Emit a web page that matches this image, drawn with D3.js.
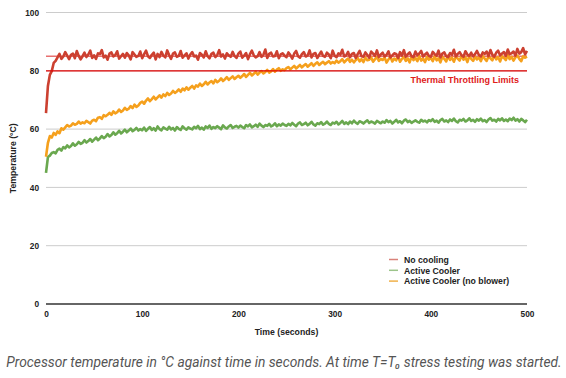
<!DOCTYPE html>
<html><head><meta charset="utf-8">
<script src="https://cdn.jsdelivr.net/npm/d3@7"></script>
<style>
body{margin:0;background:#fff;}
svg{display:block;}
</style></head>
<body>
<script>
const timeStep = 2; // seconds between samples
const xTicks = [0, 100, 200, 300, 400, 500];
const yTicks = [0, 20, 40, 60, 80, 100];
const seriesNames = ["No cooling", "Active Cooler", "Active Cooler (no blower)"];
const thresholds = [85, 80];
const thresholdLabel = "Thermal Throttling Limits";

const noCooling = [
65.5,74.8,78.6,79.9,82.7,83.4,84.6,85.8,84.1,84.9,86.4,85.2,84.0,85.5,85.9,84.3,86.8,85.1,83.9,85.0,86.2,84.7,85.6,86.9,84.4,
85.3,84.1,86.0,85.7,87.1,84.6,85.2,83.8,85.9,86.3,84.9,85.4,86.7,84.2,85.0,85.8,84.5,86.1,85.3,83.9,86.4,85.6,84.8,85.1,86.6,
84.3,85.7,86.9,85.0,84.4,85.5,86.2,83.9,85.8,84.7,86.5,85.2,84.6,87.0,85.4,84.1,85.9,86.3,84.8,85.1,86.8,84.5,85.3,86.0,84.2,
85.6,86.4,84.9,85.2,83.8,86.1,85.5,84.6,86.7,85.0,84.3,85.8,86.2,84.7,85.4,87.1,84.9,85.6,84.2,86.0,85.3,84.8,86.5,85.1,84.4,
85.9,86.6,84.5,85.2,86.1,84.0,85.7,86.9,85.3,84.6,85.0,86.4,84.8,85.5,87.3,84.4,85.8,86.2,84.9,85.1,86.7,84.3,85.6,86.0,85.2,
84.7,86.3,85.4,84.2,85.9,86.8,85.0,84.5,85.7,86.4,84.9,85.3,87.0,84.6,85.8,86.1,84.4,85.5,86.6,85.1,84.8,86.2,85.6,84.3,86.9,
85.2,84.7,86.0,85.5,87.2,84.9,85.3,86.5,84.6,85.8,86.1,84.4,85.7,86.8,85.0,84.8,86.3,85.4,84.5,86.6,85.9,85.1,87.0,84.7,85.6,
86.2,84.9,85.5,86.7,84.6,85.3,86.0,85.8,84.4,86.4,85.2,87.1,84.8,85.7,86.3,85.0,84.7,86.6,85.4,85.9,86.8,84.9,85.6,86.2,85.1,
84.8,86.5,85.7,85.2,86.9,84.6,85.9,86.3,85.0,84.7,86.1,85.5,87.2,84.9,85.8,86.4,85.3,84.8,86.7,85.6,85.1,86.2,84.9,85.7,86.8,
85.4,84.9,86.3,85.8,86.6,85.0,87.1,85.5,84.8,86.2,86.9,85.3,85.9,86.4,85.1,87.3,85.7,86.0,86.6,85.2,87.5,85.9,86.4,87.8,85.6,86.8
];

const activeCooler = [
45.0,50.4,50.9,51.8,52.1,51.7,52.9,53.3,52.6,53.8,53.4,54.4,53.7,54.2,55.1,54.3,54.8,55.6,54.9,55.3,56.2,55.4,55.9,56.6,55.7,
56.4,57.1,56.2,56.8,57.6,56.9,57.4,58.3,57.5,58.0,58.9,58.1,58.6,59.4,58.5,59.1,59.8,58.9,59.5,60.2,59.3,59.7,60.4,59.5,60.0,
59.6,60.5,59.4,60.1,60.7,59.7,60.3,59.5,60.9,60.0,59.6,60.6,60.2,59.8,60.8,59.9,60.4,59.5,60.7,60.1,59.7,60.9,60.3,59.8,60.6,
60.2,59.9,60.8,60.3,61.1,60.0,60.5,59.8,60.9,60.4,61.2,60.1,60.7,60.3,61.0,60.5,60.0,61.3,60.6,60.2,60.9,61.4,60.4,60.8,61.1,
60.5,61.2,60.7,60.3,61.4,60.9,61.6,60.6,61.0,61.5,60.8,61.9,61.2,60.7,61.4,61.1,61.8,60.9,61.3,62.0,61.0,61.6,61.2,61.9,61.4,
61.1,61.8,61.3,62.1,61.5,61.0,61.9,62.3,61.4,61.7,62.2,61.3,61.8,62.5,61.6,61.2,62.0,61.7,62.4,61.5,61.9,62.6,61.8,61.4,62.2,
61.9,62.5,61.6,62.1,62.8,61.8,62.3,61.7,62.6,62.0,62.9,62.2,61.8,62.7,62.4,61.9,62.5,63.0,62.1,62.6,62.3,61.9,62.8,62.4,62.0,
62.6,62.2,63.1,62.4,62.8,61.9,62.5,63.2,62.3,62.7,62.0,62.9,63.3,62.4,62.8,62.1,62.6,63.0,62.5,62.2,63.2,62.6,62.9,62.3,63.1,
62.7,63.4,62.5,62.9,62.2,63.1,63.5,62.6,63.0,62.4,63.3,62.8,63.6,62.7,62.3,63.2,62.9,63.5,62.6,63.0,63.7,62.8,63.2,62.5,63.4,
62.9,63.6,62.7,63.1,62.4,63.3,63.8,62.9,63.2,62.6,63.5,63.0,63.7,62.8,63.3,62.7,63.6,63.1,63.9,62.9,63.4,62.6,63.5,63.0,62.4,63.2
];

const noBlower = [
50.5,55.3,57.6,57.1,58.7,58.0,59.2,58.6,60.3,59.8,60.6,61.4,60.9,61.2,62.0,61.5,61.8,62.6,61.9,62.3,62.0,62.8,62.4,61.9,62.9,
63.2,62.7,63.9,64.1,63.5,64.8,64.4,64.9,65.6,64.9,66.1,65.4,65.8,66.7,65.9,66.4,67.3,66.6,67.0,67.9,67.2,68.4,67.6,68.1,69.0,
69.4,68.7,69.8,70.5,69.6,70.3,71.1,70.2,70.9,71.6,70.8,71.9,71.3,72.4,71.7,72.2,73.1,72.4,72.9,73.6,72.8,73.9,73.3,74.3,73.5,
74.2,74.8,73.9,75.0,74.6,75.6,74.8,75.4,76.2,75.3,76.0,76.5,75.7,76.9,76.1,76.6,77.4,76.5,77.1,77.8,76.9,77.5,78.1,77.2,77.8,
78.3,77.6,78.2,78.9,77.9,78.6,79.3,78.4,79.0,79.6,78.7,79.4,79.9,79.1,79.6,80.3,79.4,79.8,80.6,79.7,80.4,80.9,80.0,80.5,80.2,
80.9,81.3,80.5,81.1,81.7,80.8,81.4,82.0,81.2,81.8,82.3,81.4,82.0,82.6,81.7,82.4,82.9,82.0,82.6,83.1,82.3,82.8,83.3,82.5,83.0,
82.6,83.5,82.8,83.3,84.0,82.9,83.6,84.2,83.1,83.8,82.9,83.7,84.4,83.2,84.0,83.0,84.5,83.6,83.8,84.6,83.1,84.0,84.7,83.4,84.1,
83.7,84.6,82.8,83.9,84.8,83.2,84.2,83.6,85.0,83.1,84.1,84.7,83.4,84.3,82.9,84.9,83.7,84.4,83.3,85.1,83.5,84.2,83.0,84.8,83.8,
84.5,83.3,85.0,83.6,84.3,82.9,84.8,84.1,83.2,85.2,83.7,84.5,83.1,84.9,84.2,83.5,85.3,83.8,84.6,83.0,85.0,84.1,83.4,84.8,83.9,
84.6,83.3,85.1,84.2,83.4,84.9,84.3,83.6,85.4,83.9,84.7,83.2,85.0,84.4,83.7,85.5,84.0,84.8,83.5,84.6,85.2,84.1,83.3,85.0,84.5,84.9
];

const W = 566, H = 378;
const colors = {red: "#cc4030", green: "#6aa84f", orange: "#f5a01d"};
const svg = d3.select("body").append("svg").attr("width", W).attr("height", H);

const x = d3.scaleLinear().domain([0, 500]).range([46, 527]);
const y = d3.scaleLinear().domain([0, 100]).range([304, 12.5]);

const font = "'Liberation Sans', Arial, sans-serif";

// gridlines
svg.append("g").selectAll("line").data(yTicks.filter(d => d > 0)).join("line")
  .attr("x1", x(0)).attr("x2", x(500))
  .attr("y1", d => y(d)).attr("y2", d => y(d))
  .attr("stroke", "#cccccc").attr("stroke-width", 1);

// y axis labels
const yAxis = d3.axisLeft(y).tickValues(yTicks).tickSize(0).tickPadding(7);
const gy = svg.append("g").attr("transform", `translate(${x(0)},0)`).call(yAxis);
gy.select(".domain").remove();
gy.selectAll("text").attr("font-family", font).attr("font-size", 8.3).attr("font-weight", 700).attr("fill", "#222");

// x axis
const xAxis = d3.axisBottom(x).tickValues(xTicks).tickSize(0).tickPadding(7);
const gx = svg.append("g").attr("transform", `translate(0,${y(0)})`).call(xAxis);
gx.select(".domain").remove();
gx.selectAll("text").attr("font-family", font).attr("font-size", 8.3).attr("font-weight", 700).attr("fill", "#222");

// baseline
svg.append("line").attr("x1", x(0)).attr("x2", x(500)).attr("y1", y(0)).attr("y2", y(0))
  .attr("stroke", "#333").attr("stroke-width", 1.5);

// threshold line (85)
svg.append("line").attr("x1", x(0)).attr("x2", x(500)).attr("y1", y(thresholds[0])).attr("y2", y(thresholds[0]))
  .attr("stroke", "#e87070").attr("stroke-width", 1.3);

const line = d3.line().x((d, i) => x(i * timeStep)).y(d => y(d));
const series = [
  {name: seriesNames[1], data: activeCooler, color: colors.green},
  {name: seriesNames[2], data: noBlower, color: colors.orange},
  {name: seriesNames[0], data: noCooling, color: colors.red}
];
svg.append("g").selectAll("path").data(series).join("path")
  .attr("d", d => line(d.data)).attr("fill", "none")
  .attr("stroke", d => d.color).attr("stroke-width", 2.6).attr("stroke-linejoin", "round");

// threshold line (80)
svg.append("line").attr("x1", x(0)).attr("x2", x(500)).attr("y1", y(thresholds[1])).attr("y2", y(thresholds[1]))
  .attr("stroke", "#e00000").attr("stroke-width", 1.3);

svg.append("text").attr("x", 519).attr("y", y(thresholds[1]) + 12.5)
  .attr("text-anchor", "end").attr("font-family", font).attr("font-size", 9).attr("font-weight", 700)
  .attr("fill", "#e0201a").text(thresholdLabel);

// axis titles
svg.append("text").attr("x", (x(0) + x(500)) / 2).attr("y", 335).attr("text-anchor", "middle")
  .attr("font-family", font).attr("font-size", 8.7).attr("font-weight", 700).attr("fill", "#222")
  .text("Time (seconds)");
svg.append("text").attr("transform", `translate(16,${y(50)}) rotate(-90)`).attr("text-anchor", "middle")
  .attr("font-family", font).attr("font-size", 8.7).attr("font-weight", 700).attr("fill", "#222")
  .text("Temperature (°C)");

// legend
const legendItems = [
  {name: seriesNames[0], color: "#d9827a"},
  {name: seriesNames[1], color: "#9cc48a"},
  {name: seriesNames[2], color: "#f0b04a"}
];
const lg = svg.append("g").attr("transform", "translate(389,259.5)");
lg.selectAll("line").data(legendItems).join("line")
  .attr("x1", 0).attr("x2", 9).attr("y1", (d, i) => i * 10.8).attr("y2", (d, i) => i * 10.8)
  .attr("stroke", d => d.color).attr("stroke-width", 1.5);
lg.selectAll("text").data(legendItems).join("text")
  .attr("x", 15).attr("y", (d, i) => i * 10.8 + 3.2)
  .attr("font-family", font).attr("font-size", 8.7).attr("font-weight", 700).attr("fill", "#222")
  .text(d => d.name);

// caption
svg.append("text").attr("x", W / 2 + 1).attr("y", 367).attr("text-anchor", "middle")
  .attr("font-family", "Roboto, sans-serif").attr("font-size", 13.8).attr("font-style", "italic").attr("fill", "#555")
  .text("Processor temperature in °C against time in seconds. At time T=T₀ stress testing was started.");
</script>
</body></html>
